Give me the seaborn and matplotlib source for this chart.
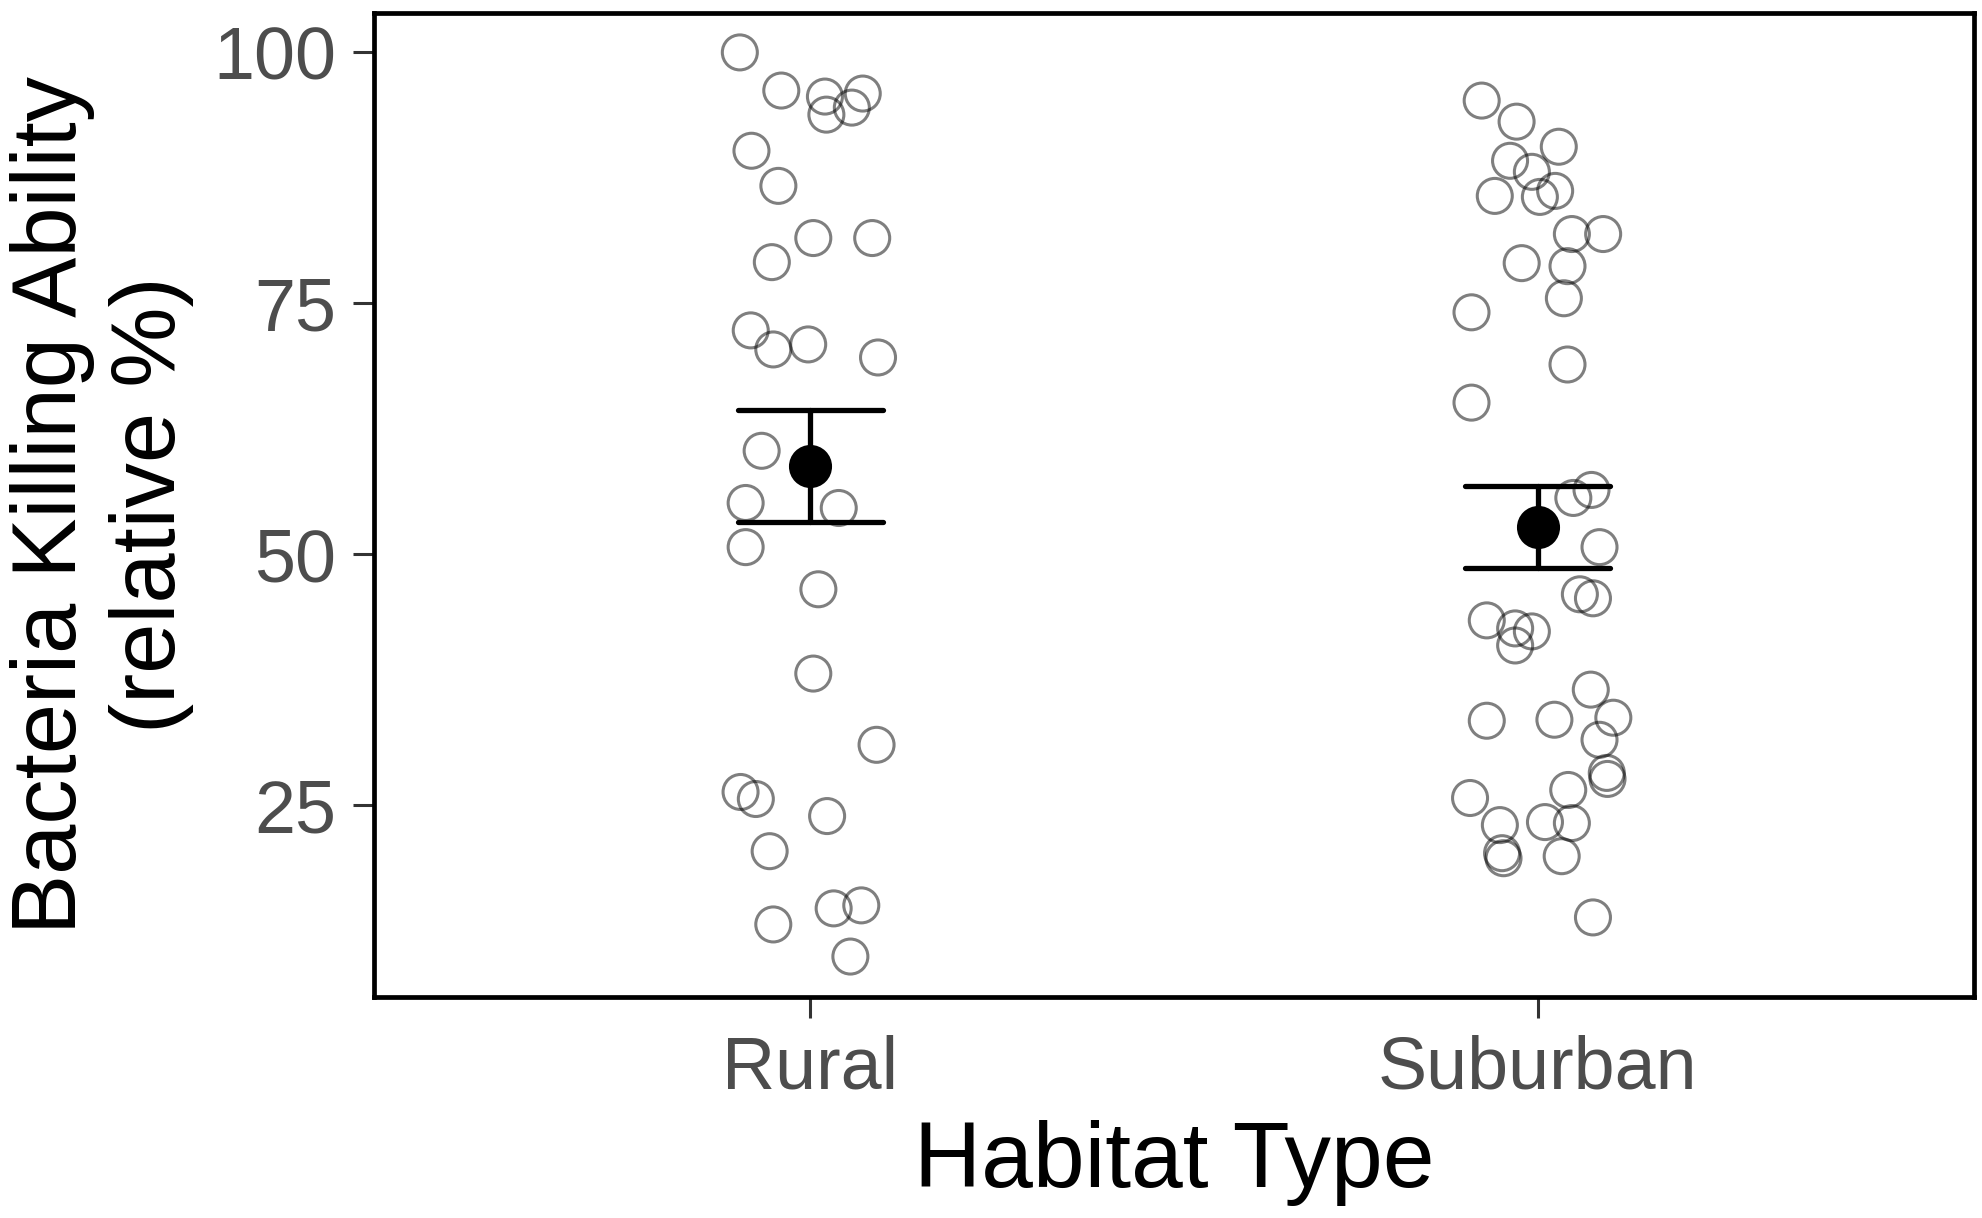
import numpy as np
import pandas as pd
import matplotlib
matplotlib.use("Agg")
import matplotlib.pyplot as plt
import seaborn as sns

# ---------------- data ----------------
categories = ["Rural", "Suburban"]

rural_values = [100.0, 96.2, 95.6, 95.9, 93.8, 94.5, 90.2, 86.7, 81.5, 81.5,
                79.1, 72.3, 70.4, 70.9, 69.6, 60.3, 55.1, 54.6, 50.7, 46.5,
                38.1, 31.0, 26.3, 25.6, 23.9, 20.4, 13.1, 14.7, 15.0, 9.9]
rural_jitter = [-0.097, -0.040, 0.020, 0.072, 0.022, 0.057, -0.081, -0.044, 0.004, 0.085,
                -0.053, -0.082, -0.051, -0.003, 0.093, -0.067, -0.089, 0.039, -0.089, 0.011,
                0.004, 0.091, -0.096, -0.075, 0.023, -0.056, -0.051, 0.032, 0.070, 0.055]

suburban_values = [95.2, 93.1, 90.6, 89.2, 88.1, 85.7, 85.6, 86.2, 81.9, 81.9,
                   79.0, 78.7, 75.5, 74.1, 68.9, 65.1, 55.6, 56.4, 50.7, 46.0,
                   45.6, 43.4, 42.6, 42.3, 40.9, 36.5, 33.4, 33.5, 33.7, 31.5,
                   28.2, 27.6, 25.7, 26.5, 23.0, 23.3, 23.2, 20.2, 19.7, 19.9, 13.8]
suburban_jitter = [-0.077, -0.029, 0.029, -0.038, -0.008, -0.059, 0.003, 0.024, 0.047, 0.090,
                   -0.022, 0.041, 0.036, -0.091, 0.041, -0.091, 0.049, 0.074, 0.085, 0.058,
                   0.076, -0.070, -0.031, -0.008, -0.031, 0.073, -0.070, 0.023, 0.104, 0.085,
                   0.095, 0.096, -0.093, 0.042, -0.052, 0.010, 0.047, -0.049, -0.047, 0.033, 0.076]

y_ticks = [25, 50, 75, 100]
x_label = "Habitat Type"
y_label = "Bacteria Killing Ability\n(relative %)"

# ---------------- table ----------------
df = pd.DataFrame({
    "habitat": ["Rural"] * len(rural_values) + ["Suburban"] * len(suburban_values),
    "value": rural_values + suburban_values,
    "jitter": rural_jitter + suburban_jitter,
})
cat_index = {c: i for i, c in enumerate(categories)}
df["xpos"] = df["habitat"].map(cat_index) + df["jitter"]

# ---------------- style ----------------
sns.set_theme(style="ticks")
plt.rcParams["font.family"] = ["Liberation Sans", "DejaVu Sans"]

fig = plt.figure(figsize=(19.83, 12.18), dpi=100)
ax = fig.add_axes([0.1886, 0.1817, 0.9955 - 0.1886, 0.9891 - 0.1817])

# raw observations: open grey circles
sns.scatterplot(data=df, x="xpos", y="value", ax=ax, s=635,
                facecolor="none", edgecolor=(0, 0, 0, 0.5), linewidth=2.2,
                legend=False, zorder=2)

# mean +/- SE
sns.pointplot(data=df, x="habitat", y="value", order=categories, ax=ax,
              errorbar="se", capsize=0.2, color="black", linestyle="none",
              markersize=29, err_kws={"linewidth": 3.8})
for ln in ax.lines:
    ln.set_zorder(5)

ax.set_xlim(-0.6, 1.6)
ax.set_ylim(5.9, 103.9)
ax.set_yticks(y_ticks)
ax.set_xticks(range(len(categories)))
ax.set_xticklabels(categories)

for side in ["left", "right", "top", "bottom"]:
    ax.spines[side].set_visible(True)
    ax.spines[side].set_linewidth(3.4)
    ax.spines[side].set_color("black")

ax.tick_params(axis="both", length=15, width=2.2, color="#333333",
               labelsize=53, labelcolor="#4D4D4D", pad=12)
ax.set_xlabel(x_label, fontsize=67, color="black", labelpad=12)
ax.set_ylabel(y_label, fontsize=65, color="black", labelpad=14, linespacing=1.22)
ax.grid(False)

fig.savefig("out.png", dpi=100, facecolor="white")
